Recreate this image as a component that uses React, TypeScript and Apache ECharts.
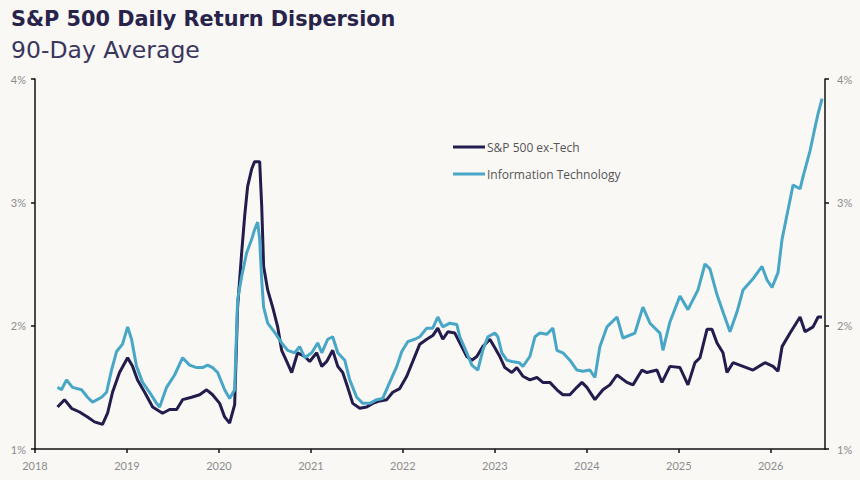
import React, { useEffect, useRef } from "react";
import * as echarts from "echarts";

// S&P 500 ex-Tech: decimal year / dispersion (%)
const exTechYears = [
  2018.245, 2018.321, 2018.397, 2018.484, 2018.571, 2018.647, 2018.734, 2018.789, 2018.843, 2018.919,
  2019.007, 2019.061, 2019.115, 2019.192, 2019.279, 2019.387, 2019.464, 2019.540, 2019.605, 2019.703,
  2019.790, 2019.866, 2019.931, 2020.008, 2020.062, 2020.116, 2020.171, 2020.203, 2020.247, 2020.280,
  2020.312, 2020.356, 2020.388, 2020.443, 2020.465, 2020.486, 2020.530, 2020.584, 2020.639, 2020.682,
  2020.737, 2020.791, 2020.856, 2020.933, 2020.987, 2021.063, 2021.118, 2021.172, 2021.237, 2021.292,
  2021.346, 2021.400, 2021.455, 2021.531, 2021.607, 2021.672, 2021.749, 2021.825, 2021.890, 2021.966,
  2022.042, 2022.108, 2022.184, 2022.260, 2022.325, 2022.380, 2022.434, 2022.489, 2022.565, 2022.619,
  2022.695, 2022.750, 2022.804, 2022.869, 2022.946, 2023.000, 2023.054, 2023.109, 2023.185, 2023.239,
  2023.305, 2023.381, 2023.457, 2023.522, 2023.598, 2023.675, 2023.740, 2023.816, 2023.892, 2023.947,
  2024.001, 2024.088, 2024.175, 2024.251, 2024.328, 2024.436, 2024.502, 2024.600, 2024.654, 2024.763,
  2024.817, 2024.904, 2025.013, 2025.100, 2025.176, 2025.231, 2025.307, 2025.361, 2025.416, 2025.481,
  2025.524, 2025.590, 2025.699, 2025.807, 2025.938, 2026.025, 2026.079, 2026.123, 2026.210, 2026.319,
  2026.373, 2026.460, 2026.515, 2026.558,
];
const exTechValues = [
  1.34, 1.40, 1.33, 1.30, 1.26, 1.22, 1.20, 1.29, 1.46, 1.62,
  1.74, 1.67, 1.56, 1.46, 1.34, 1.29, 1.32, 1.32, 1.40, 1.42,
  1.44, 1.48, 1.44, 1.37, 1.26, 1.21, 1.36, 2.15, 2.59, 2.89,
  3.13, 3.27, 3.33, 3.33, 2.97, 2.48, 2.29, 2.15, 1.99, 1.80,
  1.71, 1.62, 1.78, 1.75, 1.71, 1.78, 1.67, 1.71, 1.80, 1.67,
  1.62, 1.50, 1.37, 1.33, 1.34, 1.37, 1.39, 1.40, 1.46, 1.49,
  1.59, 1.71, 1.85, 1.89, 1.92, 1.98, 1.89, 1.95, 1.94, 1.86,
  1.75, 1.72, 1.75, 1.83, 1.89, 1.82, 1.75, 1.66, 1.62, 1.66,
  1.59, 1.56, 1.58, 1.54, 1.54, 1.48, 1.44, 1.44, 1.50, 1.54,
  1.50, 1.40, 1.48, 1.52, 1.60, 1.54, 1.52, 1.64, 1.62, 1.64,
  1.54, 1.67, 1.66, 1.52, 1.70, 1.74, 1.97, 1.97, 1.86, 1.78,
  1.62, 1.70, 1.67, 1.64, 1.70, 1.67, 1.63, 1.83, 1.94, 2.07,
  1.95, 1.99, 2.07, 2.07,
];

// Information Technology: decimal year / dispersion (%)
const techYears = [
  2018.245, 2018.288, 2018.343, 2018.408, 2018.506, 2018.571, 2018.626, 2018.724, 2018.778, 2018.832,
  2018.887, 2018.952, 2019.007, 2019.050, 2019.104, 2019.170, 2019.246, 2019.322, 2019.355, 2019.431,
  2019.518, 2019.605, 2019.681, 2019.757, 2019.823, 2019.877, 2019.931, 2019.986, 2020.062, 2020.116,
  2020.171, 2020.203, 2020.247, 2020.301, 2020.356, 2020.388, 2020.421, 2020.443, 2020.465, 2020.486,
  2020.530, 2020.612, 2020.682, 2020.748, 2020.824, 2020.878, 2020.933, 2021.009, 2021.074, 2021.118,
  2021.183, 2021.237, 2021.292, 2021.368, 2021.422, 2021.498, 2021.564, 2021.640, 2021.716, 2021.781,
  2021.857, 2021.934, 2021.988, 2022.053, 2022.129, 2022.184, 2022.260, 2022.325, 2022.380, 2022.434,
  2022.510, 2022.586, 2022.619, 2022.695, 2022.750, 2022.815, 2022.869, 2022.924, 2023.000, 2023.033,
  2023.076, 2023.131, 2023.185, 2023.264, 2023.305, 2023.381, 2023.436, 2023.490, 2023.566, 2023.631,
  2023.675, 2023.740, 2023.816, 2023.892, 2023.957, 2024.034, 2024.088, 2024.142, 2024.219, 2024.328,
  2024.393, 2024.523, 2024.610, 2024.687, 2024.795, 2024.828, 2024.904, 2025.013, 2025.100, 2025.209,
  2025.285, 2025.339, 2025.416, 2025.481, 2025.557, 2025.633, 2025.699, 2025.807, 2025.905, 2025.960,
  2026.014, 2026.079, 2026.123, 2026.188, 2026.243, 2026.319, 2026.352, 2026.428, 2026.482, 2026.515,
  2026.558,
];
const techValues = [
  1.50, 1.48, 1.56, 1.50, 1.48, 1.42, 1.38, 1.42, 1.46, 1.64,
  1.79, 1.85, 1.99, 1.89, 1.67, 1.54, 1.46, 1.37, 1.34, 1.50,
  1.60, 1.74, 1.68, 1.66, 1.66, 1.68, 1.66, 1.62, 1.48, 1.41,
  1.48, 2.21, 2.40, 2.59, 2.70, 2.78, 2.84, 2.70, 2.37, 2.15,
  2.02, 1.94, 1.86, 1.80, 1.78, 1.83, 1.74, 1.78, 1.86, 1.78,
  1.89, 1.91, 1.78, 1.72, 1.56, 1.42, 1.37, 1.37, 1.40, 1.41,
  1.54, 1.67, 1.79, 1.87, 1.89, 1.91, 1.98, 1.98, 2.07, 1.99,
  2.02, 2.01, 1.91, 1.78, 1.68, 1.64, 1.80, 1.91, 1.94, 1.91,
  1.78, 1.72, 1.71, 1.70, 1.67, 1.75, 1.91, 1.94, 1.93, 1.98,
  1.80, 1.78, 1.72, 1.64, 1.63, 1.64, 1.58, 1.83, 1.99, 2.07,
  1.90, 1.94, 2.15, 2.02, 1.94, 1.80, 2.03, 2.24, 2.13, 2.29,
  2.50, 2.46, 2.25, 2.11, 1.95, 2.11, 2.29, 2.38, 2.48, 2.37,
  2.31, 2.43, 2.70, 2.94, 3.14, 3.11, 3.21, 3.42, 3.61, 3.72,
  3.84,
];

const yearTicks = [2018, 2019, 2020, 2021, 2022, 2023, 2024, 2025, 2026];
const seriesNames = ["S&P 500 ex-Tech", "Information Technology"];

const DARK = "#221d4d";
const CYAN = "#48a6c6";
const LABEL = "#8c8c8c";

export default function App() {
  const ref = useRef<HTMLDivElement>(null);

  useEffect(() => {
    if (!ref.current) return;
    const chart = echarts.init(ref.current, null, { renderer: "svg" });

    const exTechData = exTechYears.map((y, i) => [y, exTechValues[i]]);
    const techData = techYears.map((y, i) => [y, techValues[i]]);

    const yAxisCommon = {
      type: "value" as const,
      min: 1,
      max: 4,
      interval: 1,
      splitLine: { show: false },
      axisLine: { show: true, lineStyle: { color: "#111", width: 1.5 } },
      axisTick: { show: true, length: 4, lineStyle: { color: "#111", width: 1.5 } },
      axisLabel: {
        formatter: "{value}%",
        color: LABEL,
        fontSize: 11,
        fontFamily: "Lato, sans-serif",
      },
    };

    chart.setOption({
      animation: false,
      backgroundColor: "#f9f8f5",
      title: [
        {
          text: "S&P 500 Daily Return Dispersion",
          left: 6,
          top: 3,
          textStyle: {
            fontFamily: "DejaVu Sans, sans-serif",
            fontWeight: "bold",
            fontSize: 20.8,
            color: "#27234a",
          },
        },
        {
          text: "90-Day Average",
          left: 6,
          top: 33,
          textStyle: {
            fontFamily: "DejaVu Sans, sans-serif",
            fontWeight: "normal",
            fontSize: 23.5,
            color: "#3a365e",
          },
        },
      ],
      legend: {
        orient: "vertical",
        left: 448,
        top: 136,
        itemWidth: 32,
        itemHeight: 3,
        itemGap: 15,
        icon: "rect",
        data: seriesNames,
        textStyle: {
          color: "#555",
          fontSize: 12,
          fontFamily: "Open Sans, sans-serif",
          padding: [0, 0, 0, -3],
        },
      },
      grid: { left: 35, right: 35, top: 79, bottom: 31, containLabel: false },
      xAxis: {
        type: "value",
        min: 2018,
        max: 2026.59,
        interval: 1,
        splitLine: { show: false },
        axisLine: { show: true, lineStyle: { color: "#111", width: 1.5 } },
        axisTick: { show: true, length: 4, lineStyle: { color: "#111", width: 1.5 } },
        axisLabel: {
          color: LABEL,
          fontSize: 11,
          margin: 11,
          fontFamily: "Lato, sans-serif",
          showMaxLabel: false,
          formatter: (v: number) => (yearTicks.includes(Math.round(v)) && Math.abs(v - Math.round(v)) < 1e-6 ? String(Math.round(v)) : ""),
        },
      },
      yAxis: [
        { ...yAxisCommon, position: "left", axisLabel: { ...yAxisCommon.axisLabel, margin: 9 } },
        { ...yAxisCommon, position: "right", axisLabel: { ...yAxisCommon.axisLabel, margin: 12 } },
      ],
      series: [
        {
          name: seriesNames[0],
          type: "line",
          data: exTechData,
          showSymbol: false,
          symbol: "none",
          lineStyle: { color: DARK, width: 3 },
          itemStyle: { color: DARK },
          z: 2,
        },
        {
          name: seriesNames[1],
          type: "line",
          data: techData,
          showSymbol: false,
          symbol: "none",
          lineStyle: { color: CYAN, width: 3 },
          itemStyle: { color: CYAN },
          z: 3,
        },
      ],
    });

    return () => chart.dispose();
  }, []);

  return (
    <div
      ref={ref}
      style={{ position: "fixed", left: 0, top: 0, width: 860, height: 480 }}
    />
  );
}
